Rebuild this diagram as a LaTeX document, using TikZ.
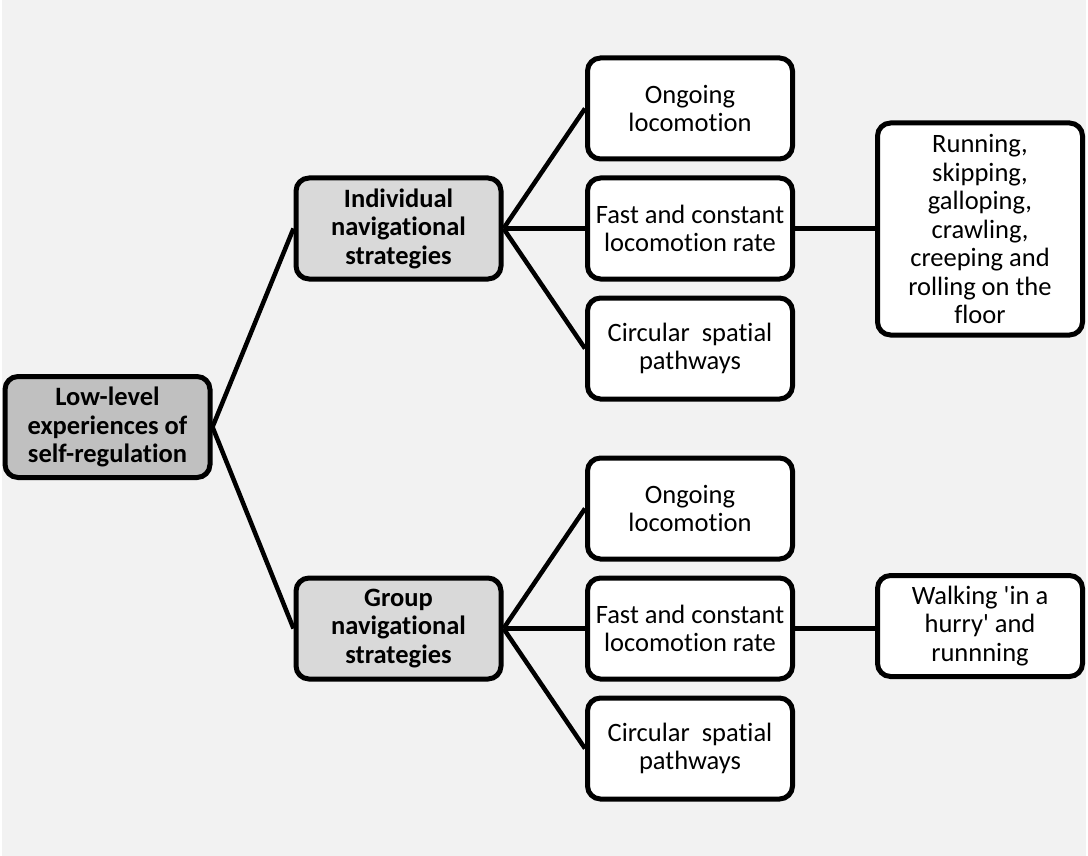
\documentclass[tikz,border=0pt]{standalone}
\usepackage{fontspec}
\setmainfont{Carlito}[Ligatures={NoCommon}]
\definecolor{bgc}{HTML}{F2F2F2}
\definecolor{rootc}{HTML}{C0C0C0}
\definecolor{midc}{HTML}{D9D9D9}
\begin{document}
\begin{tikzpicture}[x=1pt,y=-1pt,
  box/.style={draw=black, line width=5pt, rounded corners=13pt, fill=white,
    minimum width=205pt, minimum height=101pt, inner sep=0pt, align=center,
    font=\fontsize{26.5}{28.5}\selectfont},
  rootbox/.style={box, fill=rootc, font=\fontsize{26.5}{28.5}\selectfont\bfseries},
  midbox/.style={box, fill=midc, font=\fontsize{26.5}{28.5}\selectfont\bfseries},
  conn/.style={line width=4.5pt, black}]
\fill[white] (0,0) rectangle (1088,856);
\fill[bgc] (2,0) rectangle (1086,856);
\useasboundingbox (0,0) rectangle (1088,856);
\node[rootbox] (root) at (107.5,427) {Low-level\\experiences of\\self-regulation};
\node[midbox] (ind) at (398.5,228.5) {Individual\\navigational\\strategies};
\node[midbox] (grp) at (398.5,628.5) {Group\\navigational\\strategies};
\node[box] (io) at (690,108.5) {Ongoing\\locomotion};
\node[box] (if) at (690,228.5) {Fast and constant\\locomotion rate};
\node[box] (ic) at (690,348.5) {Circular\ \ spatial\\pathways};
\node[box] (go) at (690,508.5) {Ongoing\\locomotion};
\node[box] (gf) at (690,628.5) {Fast and constant\\locomotion rate};
\node[box] (gc) at (690,748.5) {Circular\ \ spatial\\pathways};
\node[box, minimum height=212pt] (run) at (980,229) {Running,\\skipping,\\galloping,\\crawling,\\creeping and\\rolling on the\\floor};
\node[box] (walk) at (980,626) {Walking \textquotesingle in a\\hurry\textquotesingle{} and\\runnning};
\draw[conn] (root.east) -- (ind.west);
\draw[conn] (root.east) -- (grp.west);
\draw[conn] (ind.east) -- (io.west);
\draw[conn] (ind.east) -- (if.west);
\draw[conn] (ind.east) -- (ic.west);
\draw[conn] (grp.east) -- (go.west);
\draw[conn] (grp.east) -- (gf.west);
\draw[conn] (grp.east) -- (gc.west);
\draw[conn] (if.east) -- (if.east -| run.west);
\draw[conn] (gf.east) -- (gf.east -| walk.west);
\end{tikzpicture}
\end{document}
